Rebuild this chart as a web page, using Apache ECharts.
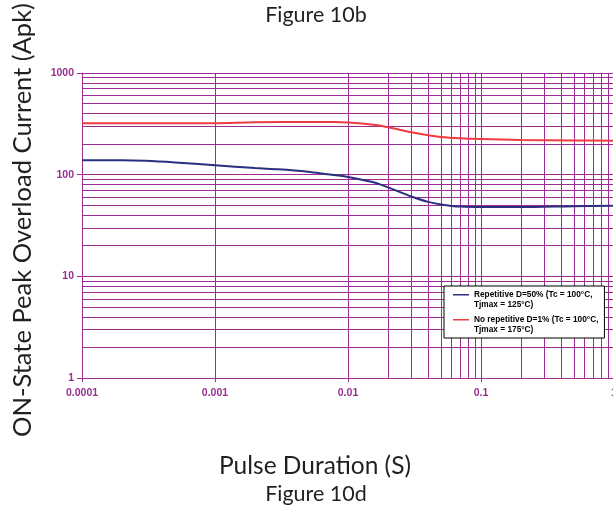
<!DOCTYPE html>
<html>
<head>
<meta charset="utf-8">
<script src="https://cdn.jsdelivr.net/npm/echarts@6/dist/echarts.min.js"></script>
<style>
html,body{margin:0;padding:0;background:#fff;}
#chart{width:613px;height:507px;}
</style>
</head>
<body>
<div id="chart"></div>
<script>
// Pulse durations (s) for each series
const repX = [0.0001, 0.0002, 0.0003, 0.0005, 0.001, 0.002, 0.003, 0.005, 0.007, 0.01, 0.015, 0.02, 0.03, 0.04, 0.05, 0.07, 0.1, 0.2, 0.5, 1];
const repY = [139, 139, 137, 132, 124, 116, 113, 107, 101, 95, 85, 75, 61, 54, 51, 48.5, 48, 48, 49, 49.6];
const noRepX = [0.0001, 0.0005, 0.001, 0.002, 0.005, 0.008, 0.01, 0.015, 0.02, 0.03, 0.04, 0.05, 0.07, 0.1, 0.2, 0.5, 1];
const noRepY = [320, 320, 321, 328, 330, 330, 326, 311, 293, 261, 244, 235, 228, 224, 219, 217, 216];

const seriesNames = ['Repetitive D=50% (Tc = 100°C,\nTjmax = 125°C)', 'No repetitive D=1% (Tc = 100°C,\nTjmax = 175°C)'];
const xTickLabels = ['0.0001', '0.001', '0.01', '0.1', '1'];
const yTickLabels = ['1', '10', '100', '1000'];

// minor log gridlines: multipliers within each decade
const minorMultipliers = [2, 3, 4, 5, 6, 7, 8, 9];
const xDecades = [0.0001, 0.001, 0.01, 0.1];
const yDecades = [1, 10, 100];

const gridColor = '#9c2c93';
const labelColor = '#982e90';

const gridLines = [];
xDecades.forEach(d => minorMultipliers.forEach(m => gridLines.push({ xAxis: +(d * m).toPrecision(3) })));
yDecades.forEach(d => minorMultipliers.forEach(m => gridLines.push({ yAxis: d * m })));

const chart = echarts.init(document.getElementById('chart'), null, { renderer: 'canvas' });
const option = {
  animation: false,
  backgroundColor: '#fff',
  grid: { left: 82, right: -1, top: 73, bottom: 129, containLabel: false, outerBoundsMode: 'none' },
  graphic: [
    { type: 'text', x: 316, y: 15, style: { text: 'Figure 10b', font: '21.5px Lato', fill: '#231f20', align: 'center', verticalAlign: 'middle' } },
    { type: 'text', x: 315, y: 466, style: { text: 'Pulse Duration (S)', font: '24.5px Lato', fill: '#231f20', align: 'center', verticalAlign: 'middle' } },
    { type: 'text', x: 316, y: 494, style: { text: 'Figure 10d', font: '21.5px Lato', fill: '#231f20', align: 'center', verticalAlign: 'middle' } },
    { type: 'text', x: 23, y: 220, rotation: Math.PI / 2, style: { text: 'ON-State Peak Overload Current (Apk)', font: '25.5px Lato', fill: '#231f20', align: 'center', verticalAlign: 'middle' } }
  ],
  legend: {
    orient: 'vertical',
    left: 444,
    top: 286,
    data: seriesNames,
    backgroundColor: '#fff',
    borderColor: '#000',
    borderWidth: 1,
    padding: [3, 6, 3, 9],
    itemGap: 4,
    itemWidth: 16,
    itemHeight: 11,
    symbolKeepAspect: false,
    icon: 'path://M0,0h16v1.6h-16z M0,11h0.01v0.01h-0.01z',
    itemStyle: { borderWidth: 0 },
    textStyle: { fontFamily: 'Liberation Sans, Arial', fontSize: 8.3, fontWeight: 'bold', color: '#000', lineHeight: 10.5 }
  },
  xAxis: {
    type: 'log',
    logBase: 10,
    min: 0.0001,
    max: 1,
    axisLine: { show: true, lineStyle: { color: gridColor, width: 1 } },
    axisTick: { show: true, length: 4, lineStyle: { color: gridColor } },
    axisLabel: {
      color: labelColor, fontFamily: 'Liberation Sans, Arial', fontWeight: 'bold', fontSize: 10.5, margin: 10,
      formatter: (v, i) => xTickLabels[i] !== undefined ? xTickLabels[i] : ''
    },
    splitLine: { show: true, lineStyle: { color: gridColor, width: 1 } },
    minorTick: { show: false },
    minorSplitLine: { show: false }
  },
  yAxis: {
    type: 'log',
    logBase: 10,
    min: 1,
    max: 1000,
    axisLine: { show: true, lineStyle: { color: gridColor, width: 1 } },
    axisTick: { show: true, length: 5, lineStyle: { color: gridColor } },
    axisLabel: {
      color: labelColor, fontFamily: 'Liberation Sans, Arial', fontWeight: 'bold', fontSize: 10.5, margin: 8,
      formatter: (v, i) => yTickLabels[i] !== undefined ? yTickLabels[i] : ''
    },
    splitLine: { show: true, lineStyle: { color: gridColor, width: 1 } }
  },
  series: [
    {
      name: seriesNames[0],
      type: 'line',
      data: repX.map((x, i) => [x, repY[i]]),
      showSymbol: false,
      symbol: 'none',
      smooth: 0.3,
      z: 4,
      color: '#2a2f7f',
      itemStyle: { color: '#2a2f7f' },
      lineStyle: { color: '#2a2f7f', width: 2 },
      markLine: {
        silent: true,
        z: 1,
        symbol: ['none', 'none'],
        label: { show: false },
        lineStyle: { color: gridColor, width: 1, type: 'solid', opacity: 1 },
        emphasis: { disabled: true },
        data: gridLines
      }
    },
    {
      name: seriesNames[1],
      type: 'line',
      data: noRepX.map((x, i) => [x, noRepY[i]]),
      showSymbol: false,
      symbol: 'none',
      smooth: 0.3,
      z: 4,
      color: '#ef3b3f',
      itemStyle: { color: '#ef3b3f' },
      lineStyle: { color: '#ef3b3f', width: 2 }
    }
  ]
};
chart.setOption(option);
</script>
</body>
</html>
